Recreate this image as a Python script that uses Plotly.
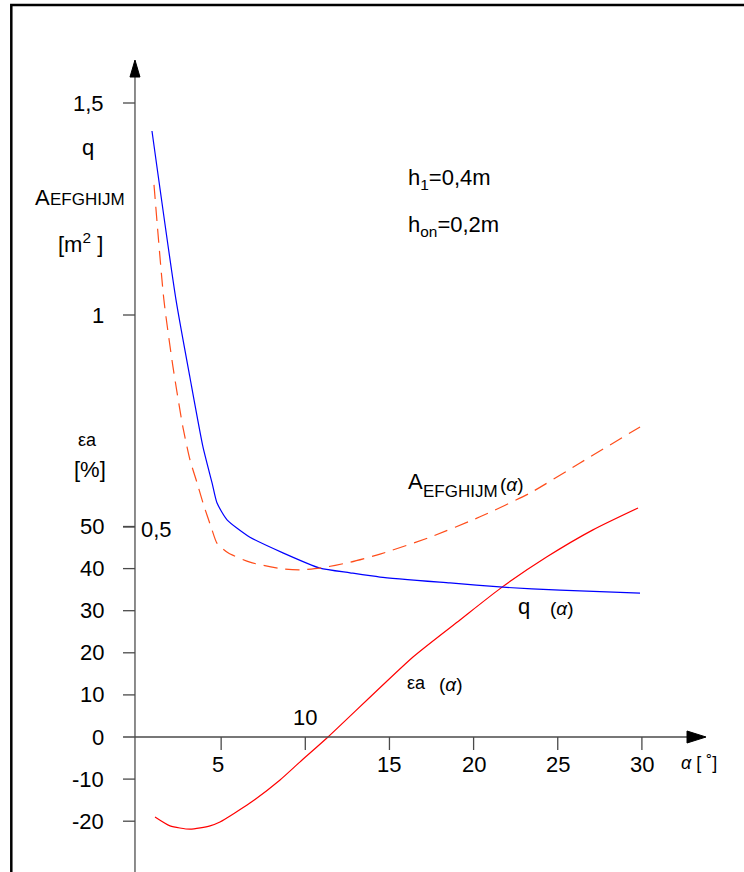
import plotly.graph_objects as go

# ---- data ----
alpha_q = [0.89, 2.32, 3.15, 3.92, 4.46, 4.75, 5.35, 6.71, 8.67, 10.87, 12.66, 14.44, 18.6, 21.75, 25.13, 29.89]
q_vals = [1.434, 1.035, 0.852, 0.689, 0.604, 0.557, 0.517, 0.476, 0.439, 0.403, 0.392, 0.382, 0.368, 0.358, 0.351, 0.344]

alpha_A = [1.01, 1.60, 2.14, 2.73, 3.15, 3.57, 3.92, 4.46, 4.75, 5.41, 6.71, 8.67, 9.69, 10.87, 12.66, 14.44, 17.41, 20.38, 23.35, 26.32, 29.89]
A_vals = [1.307, 1.035, 0.877, 0.735, 0.658, 0.604, 0.557, 0.493, 0.462, 0.439, 0.417, 0.401, 0.399, 0.403, 0.417, 0.436, 0.476, 0.524, 0.580, 0.651, 0.736]

alpha_e = [1.07, 1.96, 3.15, 4.34, 4.93, 6.71, 8.50, 9.69, 11.35, 16.40, 19.19, 21.69, 24.36, 27.09, 29.77]
eps_vals = [-19.0, -21.1, -21.9, -21.1, -20.2, -15.7, -10.2, -5.9, 0.0, 19.0, 27.8, 35.6, 42.8, 49.2, 54.4]

eps_ticks = [50, 40, 30, 20, 10, 0, -10, -20]
eps_labels = ["50", "40", "30", "20", "10", "0", "-10", "-20"]
q_ticks = [1.5, 1.0, 0.5]
q_labels = ["1,5", "1", "0,5"]
alpha_ticks = [5, 10, 15, 20, 25, 30]
alpha_labels = ["5", "10", "15", "20", "25", "30"]

# ---- layout constants ----
W, H = 744, 872
FONT = "Liberation Sans, Arial, sans-serif"
AXIS_X = -0.12          # position of vertical axis (alpha units)
X_AXIS_START = -0.83
X_AXIS_END = 33.81
Y_AXIS_TOP = 160.8      # in eps units
AX_COL = "#4a4a4a"


def px(x):
    return x / W


def py(y):
    return 1 - y / H


fig = go.Figure()

fig.add_trace(go.Scatter(x=alpha_q, y=q_vals, yaxis="y2", mode="lines",
                         line=dict(color="#0000FF", width=1.2, shape="spline", smoothing=0.6),
                         hoverinfo="skip", showlegend=False))
fig.add_trace(go.Scatter(x=alpha_A, y=A_vals, yaxis="y2", mode="lines",
                         line=dict(color="#FF4D1A", width=1.2, dash="14px,8px", shape="spline", smoothing=0.6),
                         hoverinfo="skip", showlegend=False))
fig.add_trace(go.Scatter(x=alpha_e, y=eps_vals, yaxis="y", mode="lines",
                         line=dict(color="#FF0000", width=1.2, shape="spline", smoothing=0.6),
                         hoverinfo="skip", showlegend=False))

shapes = []
# frame
shapes.append(dict(type="rect", xref="paper", yref="paper", x0=px(11.3), x1=1.05, y0=-0.05, y1=py(5),
                   line=dict(color="black", width=2.5), fillcolor="rgba(0,0,0,0)", layer="below"))
# vertical axis
shapes.append(dict(type="line", xref="x", yref="y", x0=AXIS_X, x1=AXIS_X, y0=-45, y1=Y_AXIS_TOP - 2,
                   line=dict(color="#666666", width=1.5)))
shapes.append(dict(type="path", xref="x", yref="y", xsizemode="pixel", ysizemode="pixel",
                   xanchor=AXIS_X, yanchor=Y_AXIS_TOP, path="M0,0 L-5,-17 L5,-17 Z",
                   fillcolor="black", line=dict(color="black", width=1)))
# horizontal axis
shapes.append(dict(type="line", xref="x", yref="y", x0=X_AXIS_START, x1=X_AXIS_END - 0.5, y0=0, y1=0,
                   line=dict(color=AX_COL, width=1.5)))
shapes.append(dict(type="path", xref="x", yref="y", xsizemode="pixel", ysizemode="pixel",
                   xanchor=X_AXIS_END, yanchor=0, path="M0,0 L-19,6 L-19,-6 Z",
                   fillcolor="black", line=dict(color="black", width=1)))
# eps ticks
for v in eps_ticks:
    if v == 0:
        continue
    shapes.append(dict(type="line", xref="x", yref="y", xsizemode="pixel", xanchor=AXIS_X,
                       x0=-12, x1=0, y0=v, y1=v, line=dict(color=AX_COL, width=1.3)))
# q ticks
for v in q_ticks:
    shapes.append(dict(type="line", xref="x", yref="y2", xsizemode="pixel", xanchor=AXIS_X,
                       x0=-12, x1=0, y0=v, y1=v, line=dict(color=AX_COL, width=1.3)))
# alpha ticks
for v in alpha_ticks:
    shapes.append(dict(type="line", xref="x", yref="y", ysizemode="pixel", yanchor=0,
                       x0=v, x1=v, y0=0, y1=-13, line=dict(color=AX_COL, width=1.3)))

ann = []
for v, t in zip(eps_ticks, eps_labels):
    ann.append(dict(x=AXIS_X, y=v, xref="x", yref="y", text=t, showarrow=False,
                    xanchor="right", yanchor="middle", xshift=-29, font=dict(size=22)))
for v, t in zip(q_ticks, q_labels):
    if v == 0.5:
        ann.append(dict(x=AXIS_X, y=v, xref="x", yref="y2", text=t, showarrow=False,
                        xanchor="left", yanchor="middle", xshift=4, yshift=-2, font=dict(size=22)))
    else:
        ann.append(dict(x=AXIS_X, y=v, xref="x", yref="y2", text=t, showarrow=False,
                        xanchor="right", yanchor="middle", xshift=-29, font=dict(size=22)))
for v, t in zip(alpha_ticks, alpha_labels):
    if v == 10:
        ann.append(dict(x=v, y=0, xref="x", yref="y", text=t, showarrow=False,
                        xanchor="center", yanchor="middle", yshift=20, font=dict(size=22)))
    else:
        ann.append(dict(x=v, y=0, xref="x", yref="y", text=t, showarrow=False,
                        xanchor="center", yanchor="middle", yshift=-27,
                        xshift=-3 if v == 5 else 0, font=dict(size=22)))


def label(x, y, text, size=22, anchor="left"):
    ann.append(dict(x=px(x), y=py(y), xref="paper", yref="paper", text=text, showarrow=False,
                    xanchor=anchor, yanchor="middle", font=dict(size=size)))


# left axis titles
label(88, 147, "q", anchor="center")
label(33, 197, "A")
label(48, 200, "EFGHIJM", size=17)
label(80, 243, "[m<sup>2</sup> ]", anchor="center")
label(87, 440, "εa", size=18, anchor="center")
label(90, 469, "[%]", anchor="center")
# x axis title
label(679, 763, "<i>α</i> [ ˚]", size=18)
# parameters
label(406, 179, "h<sub>1</sub>=0,4m")
label(406, 226, "h<sub>on</sub>=0,2m")
# curve labels
label(406, 482, "A")
label(421, 491, "EFGHIJM", size=17)
label(498, 484, "(<i>α</i>)", size=19)
label(516, 606, "q")
label(548, 608, "(<i>α</i>)", size=19)
label(405, 683, "εa", size=18)
label(437, 684, "(<i>α</i>)", size=19)

fig.update_layout(
    width=W, height=H,
    margin=dict(l=0, r=0, t=0, b=0),
    paper_bgcolor="white", plot_bgcolor="white",
    font=dict(family=FONT, color="black", size=22),
    xaxis=dict(range=[-137 / 16.83, (W - 137) / 16.83], visible=False, fixedrange=True),
    yaxis=dict(range=[(737 - H) / 4.21, 737 / 4.21], visible=False, fixedrange=True),
    yaxis2=dict(range=[(739 - H) / 424, 739 / 424], overlaying="y", visible=False, fixedrange=True),
    shapes=shapes,
    annotations=ann,
    showlegend=False,
)

fig.write_html("out.html", config={"displayModeBar": False},
               post_script="document.body.style.margin='0';")
